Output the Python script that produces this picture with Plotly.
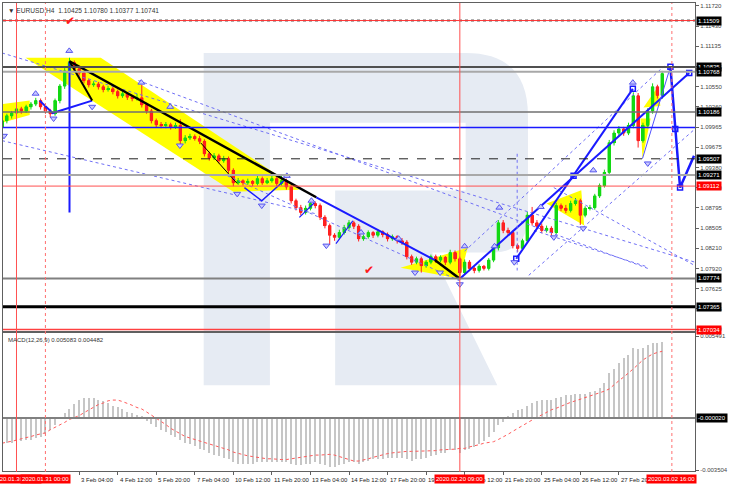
import plotly.graph_objects as go

# ---------------- data ----------------
candle_idx = list(range(138))

open_p = [1.0996,1.1006,1.1013,1.1017,1.1023,1.1020,1.1026,1.1030,1.1035,1.1026,
          1.1020,1.1016,1.1035,1.1056,1.1078,1.1090,1.1081,1.1075,1.1064,1.1058,
          1.1059,1.1055,1.1051,1.1052,1.1048,1.1042,1.1045,1.1040,1.1038,1.1039,
          1.1029,1.1020,1.1006,1.1000,1.0999,1.1000,1.0997,1.0999,1.0977,1.0981,
          1.0983,1.0980,1.0976,1.0958,1.0952,1.0955,1.0948,1.0951,1.0934,1.0916,
          1.0919,1.0916,1.0918,1.0915,1.0922,1.0916,1.0919,1.0922,1.0915,1.0919,
          1.0910,1.0890,1.0880,1.0873,1.0879,1.0886,1.0883,1.0866,1.0854,1.0840,
          1.0837,1.0844,1.0851,1.0858,1.0853,1.0835,1.0838,1.0844,1.0840,1.0845,
          1.0841,1.0835,1.0838,1.0832,1.0830,1.0809,1.0801,1.0806,1.0796,1.0801,
          1.0809,1.0804,1.0808,1.0801,1.0815,1.0806,1.0786,1.0801,1.0792,1.0789,
          1.0795,1.0792,1.0804,1.0822,1.0858,1.0847,1.0844,1.0825,1.0821,1.0832,
          1.0869,1.0858,1.0853,1.0847,1.0850,1.0844,1.0883,1.0879,1.0876,1.0886,
          1.0890,1.0869,1.0879,1.0880,1.0897,1.0912,1.0931,1.0974,1.0988,1.0994,
          1.0988,1.0999,1.1042,1.0977,1.0999,1.1020,1.1055,1.10425]

close_p = [1.1006,1.1013,1.1017,1.1023,1.1020,1.1026,1.1030,1.1035,1.1026,1.1020,
           1.1016,1.1035,1.1056,1.1078,1.1090,1.1081,1.1075,1.1064,1.1058,1.1059,
           1.1055,1.1051,1.1052,1.1048,1.1042,1.1045,1.1040,1.1038,1.1039,1.1029,
           1.1020,1.1006,1.1000,1.0999,1.1000,1.0997,1.0999,1.0977,1.0981,1.0983,
           1.0980,1.0976,1.0958,1.0952,1.0955,1.0948,1.0951,1.0934,1.0916,1.0919,
           1.0916,1.0918,1.0915,1.0922,1.0916,1.0919,1.0922,1.0915,1.0919,1.0910,
           1.0890,1.0880,1.0873,1.0879,1.0886,1.0883,1.0866,1.0854,1.0840,1.0837,
           1.0844,1.0851,1.0858,1.0853,1.0835,1.0838,1.0844,1.0840,1.0845,1.0841,
           1.0835,1.0838,1.0832,1.0830,1.0809,1.0801,1.0806,1.0796,1.0801,1.0809,
           1.0804,1.0808,1.0801,1.0815,1.0806,1.0786,1.0801,1.0792,1.0789,1.0795,
           1.0792,1.0804,1.0822,1.0858,1.0847,1.0844,1.0825,1.0821,1.0832,1.0869,
           1.0858,1.0853,1.0847,1.0850,1.0844,1.0883,1.0879,1.0876,1.0886,1.0890,
           1.0869,1.0879,1.0880,1.0897,1.0912,1.0931,1.0974,1.0988,1.0994,1.0988,
           1.0999,1.1042,1.0977,1.0999,1.1020,1.1055,1.10425,1.10741]

high_p = [1.1010,1.1016,1.1020,1.1027,1.1026,1.1029,1.1033,1.1039,1.1038,1.1029,
          1.1023,1.1038,1.1059,1.1082,1.1097,1.1093,1.1085,1.1078,1.1067,1.1063,
          1.1062,1.1058,1.1056,1.1055,1.1051,1.1048,1.1047,1.1043,1.1045,1.1058,
          1.1032,1.1023,1.1009,1.1004,1.1004,1.1003,1.1003,1.1008,1.0985,1.0987,
          1.0986,1.0984,1.0979,1.0961,1.0959,1.0958,1.0955,1.0954,1.0937,1.0923,
          1.0921,1.0922,1.0920,1.0926,1.0925,1.0923,1.0926,1.0925,1.0926,1.0922,
          1.0913,1.0893,1.0884,1.0883,1.0890,1.0889,1.0886,1.0869,1.0857,1.0843,
          1.0848,1.0855,1.0862,1.0861,1.0856,1.0841,1.0847,1.0846,1.0848,1.0847,
          1.0844,1.0841,1.0840,1.0836,1.0833,1.0812,1.0809,1.0809,1.0804,1.0812,
          1.0812,1.0811,1.0810,1.0819,1.0818,1.0809,1.0805,1.0804,1.0795,1.0798,
          1.0797,1.0807,1.0825,1.0862,1.0862,1.0851,1.0847,1.0828,1.0835,1.0874,
          1.0881,1.0862,1.0857,1.0854,1.0853,1.0887,1.0886,1.0884,1.0890,1.0894,
          1.0893,1.0882,1.0884,1.0900,1.0915,1.0935,1.0978,1.0992,1.0998,1.0997,
          1.1003,1.1047,1.1046,1.1003,1.1024,1.1060,1.1058,1.10780]

low_p = [1.0992,1.1002,1.1009,1.1013,1.1016,1.1017,1.1022,1.1027,1.1022,1.1016,
         1.1011,1.1013,1.1031,1.1052,1.1074,1.1077,1.1071,1.1060,1.1054,1.1055,
         1.1051,1.1047,1.1048,1.1044,1.1038,1.1039,1.1036,1.1034,1.1035,1.1025,
         1.1016,1.1002,1.0996,1.0995,1.0995,1.0993,1.0994,1.0972,1.0973,1.0978,
         1.0977,1.0972,1.0954,1.0948,1.0949,1.0944,1.0945,1.0930,1.0911,1.0913,
         1.0912,1.0913,1.0911,1.0912,1.0913,1.0914,1.0916,1.0911,1.0912,1.0906,
         1.0886,1.0876,1.0869,1.0870,1.0876,1.0879,1.0862,1.0850,1.0826,1.0832,
         1.0834,1.0841,1.0848,1.0849,1.0831,1.0832,1.0835,1.0836,1.0837,1.0837,
         1.0831,1.0832,1.0828,1.0826,1.0805,1.0797,1.0798,1.0786,1.0793,1.0798,
         1.0800,1.0801,1.0797,1.0798,1.0802,1.0777,1.0783,1.0788,1.0785,1.0786,
         1.0789,1.0789,1.0801,1.0818,1.0843,1.0840,1.0821,1.0816,1.0818,1.0829,
         1.0854,1.0849,1.0843,1.0844,1.0837,1.0841,1.0875,1.0872,1.0873,1.0883,
         1.0855,1.0866,1.0876,1.0877,1.0894,1.0909,1.0928,1.0970,1.0984,1.0984,
         1.0985,1.0995,1.0967,1.0974,1.0995,1.1016,1.1038,1.10377]

macd_main = [-0.0017,-0.0017,-0.0017,-0.0016,-0.0016,-0.0015,-0.0015,-0.0014,-0.0013,-0.0011,
             -0.0008,-0.0005,-0.0001,0.0003,0.0006,0.0009,0.0012,0.0013,0.0013,0.0013,
             0.0012,0.0011,0.0010,0.0008,0.0007,0.0006,0.0004,0.0003,0.0002,0.0001,
             -0.0002,-0.0004,-0.0006,-0.0008,-0.0010,-0.0012,-0.0013,-0.0015,-0.0017,-0.0018,
             -0.0019,-0.0021,-0.0022,-0.0024,-0.0025,-0.0026,-0.0027,-0.0028,-0.0030,-0.0031,
             -0.0031,-0.0031,-0.0031,-0.0030,-0.0030,-0.0030,-0.0030,-0.0030,-0.0030,-0.0030,
             -0.0031,-0.0032,-0.0032,-0.0031,-0.0031,-0.0030,-0.0031,-0.0032,-0.0033,-0.0033,
             -0.0032,-0.0031,-0.0030,-0.0030,-0.0031,-0.0030,-0.0029,-0.0028,-0.0028,-0.0028,
             -0.0027,-0.0027,-0.0027,-0.0027,-0.0028,-0.0029,-0.0028,-0.0028,-0.0027,-0.0026,
             -0.0025,-0.0024,-0.0024,-0.0022,-0.0022,-0.0024,-0.0022,-0.0021,-0.0020,-0.0018,
             -0.0016,-0.0013,-0.0010,-0.0005,-0.0003,0.0001,0.0003,0.0005,0.0006,0.0008,
             0.0010,0.0011,0.0012,0.0012,0.0012,0.0013,0.0014,0.0015,0.0015,0.0016,
             0.0016,0.0016,0.0017,0.0018,0.0020,0.0023,0.0030,0.0033,0.0037,0.0040,
             0.0042,0.0047,0.0046,0.0047,0.0049,0.0050,0.0050,0.005083]

macd_signal = [-0.00170,-0.00165,-0.00160,-0.00150,-0.00140,-0.00135,-0.00125,-0.00115,-0.00110,-0.00100,
               -0.00080,-0.00065,-0.00050,-0.00030,-0.00010,0.00000,0.00015,0.00035,0.00055,0.00075,
               0.00090,0.00100,0.00115,0.00120,0.00120,0.00110,0.00100,0.00085,0.00070,0.00060,
               0.00040,0.00020,0.00000,-0.00020,-0.00045,-0.00070,-0.00090,-0.00110,-0.00125,-0.00135,
               -0.00145,-0.00155,-0.00165,-0.00175,-0.00185,-0.00195,-0.00205,-0.00215,-0.00230,-0.00240,
               -0.00250,-0.00255,-0.00260,-0.00265,-0.00270,-0.00275,-0.00275,-0.00280,-0.00280,-0.00280,
               -0.00275,-0.00270,-0.00265,-0.00260,-0.00255,-0.00250,-0.00250,-0.00245,-0.00245,-0.00250,
               -0.00260,-0.00270,-0.00280,-0.00290,-0.00290,-0.00285,-0.00275,-0.00265,-0.00255,-0.00245,
               -0.00240,-0.00235,-0.00230,-0.00230,-0.00225,-0.00225,-0.00225,-0.00225,-0.00220,-0.00220,
               -0.00220,-0.00215,-0.00215,-0.00210,-0.00210,-0.00205,-0.00205,-0.00195,-0.00190,-0.00180,
               -0.00170,-0.00165,-0.00160,-0.00145,-0.00130,-0.00110,-0.00090,-0.00070,-0.00050,-0.00035,
               -0.00015,0.00005,0.00020,0.00040,0.00055,0.00065,0.00080,0.00095,0.00105,0.00115,
               0.00125,0.00135,0.00150,0.00160,0.00170,0.00180,0.00195,0.00225,0.00250,0.00275,
               0.00300,0.00330,0.00360,0.00390,0.00410,0.00430,0.00440,0.004482]

price_ticks = [1.11720,1.11430,1.11135,1.10845,1.10550,1.10260,1.09965,1.09675,1.09380,
               1.09090,1.08795,1.08505,1.08210,1.07920,1.07625,1.07335,1.07040]
macd_ticks = [0.005491, -0.003504]

time_tick_idx = [16,24,32,40,48,56,64,72,80,88,96,104,112,120,128]
time_tick_text = ["3 Feb 04:00","4 Feb 12:00","5 Feb 20:00","7 Feb 04:00","10 Feb 12:00",
                  "11 Feb 20:00","13 Feb 04:00","14 Feb 12:00","17 Feb 20:00","19 Feb 04:00",
                  "20 Feb 12:00","21 Feb 20:00","25 Feb 04:00","26 Feb 12:00","27 Feb 20:00"]

vline_idx = [3, 9, 95, 139]
vline_text = ["2020.01.30 00:00", "2020.01.31 00:00", "2020.02.20 09:00", "2020.03.02 16:00"]

level_prices = [1.11509, 1.10835, 1.10768, 1.10186, 1.09507, 1.09271, 1.09112, 1.07774, 1.07365, 1.07034]
blue_level = 1.0996

# drawn analysis objects (index, price)
black_a_x = [14, 65.2];        black_a_y = [1.1092, 1.0895]
black_b_x = [14, 18.7];        black_b_y = [1.1092, 1.1035]
black_c_x = [41.2, 48.8];      black_c_y = [1.0974, 1.0915]
black_d_x = [89.8, 95];        black_d_y = [1.0804, 1.0777]
blue_a_x = [65.2, 89.8];       blue_a_y = [1.0895, 1.0804]
blue_b_x = [7.8, 10.5, 18.7];  blue_b_y = [1.1035, 1.1017, 1.1035]
blue_c_x = [50.3, 53.9, 58.5]; blue_c_y = [1.0909, 1.0890, 1.0919]
blue_d_x = [61.7, 64.8];       blue_d_y = [1.0866, 1.0887]
blue_e_x = [69.3, 72.8];       blue_e_y = [1.0828, 1.0861]
blue_up1_x = [95, 142.6];      blue_up1_y = [1.0777, 1.1075]
blue_up2_x = [106.7, 130.9];   blue_up2_y = [1.0806, 1.1052]
blue_fc_x = [138.7, 139.7, 140.7, 143.6]; blue_fc_y = [1.1084, 1.0994, 1.0909, 1.0955]
blue_thin_x = [132.9, 138.7];  blue_thin_y = [1.0951, 1.1084]
blue_vert_x = [14, 14];        blue_vert_y = [1.1092, 1.0873]
blue_dvert_x = [106.9, 106.9]; blue_dvert_y = [1.0958, 1.0789]
square_x = [138.7, 118.6, 106.7, 130.9, 142.6, 139.7, 140.7]
square_y = [1.1084, 1.0926, 1.0806, 1.1052, 1.1075, 1.0994, 1.0909]

dotted_lines = [
    ([0, 143.8], [1.1104, 1.0801]),
    ([0, 65.2], [1.0977, 1.0871]),
    ([28.3, 134], [1.1064, 1.0792]),
    ([46.8, 95.6], [1.0926, 1.0772]),
    ([96, 137.4], [1.0817, 1.1085]),
    ([109.3, 143.8], [1.0782, 1.0994]),
    ([114.5, 143.8], [1.0909, 1.0796]),
    ([110.4, 134], [1.0847, 1.0794]),
]

frac_up_x = [13.95, 6.97, 28.9, 34.9, 59.1, 64.2, 74.5, 82.3, 96, 102.2, 103.2, 111.8, 122.7, 130.9]
frac_up_y = [1.1107, 1.1045, 1.1061, 1.1026, 1.0926, 1.0890, 1.0844, 1.0835, 1.0824, 1.0824, 1.0880, 1.0881, 1.0934, 1.1061]
frac_dn_x = [0.4, 10.7, 18.7, 36.9, 48.8, 53.9, 67.3, 85.7, 90.9, 95, 106.3, 114.5, 120.6, 134]
frac_dn_y = [1.0984, 1.1009, 1.1026, 1.0970, 1.0900, 1.0883, 1.0825, 1.0786, 1.0786, 1.0769, 1.0801, 1.0837, 1.0850, 1.0944]

yellow_polys = [
    ([4.9, 20.5, 61.7, 48.0], [1.1097, 1.1097, 1.0906, 1.0903]),
    ([0, 5.74, 5.74, 0], [1.1030, 1.1035, 1.1014, 1.1003]),
    ([82.7, 96.6, 95], [1.0793, 1.0822, 1.0777]),
    ([113, 120.2, 120.8], [1.0886, 1.0905, 1.0854]),
    ([132.5, 134.6, 132.9], [1.1009, 1.1009, 1.0951]),
    ([133.1, 136.2, 136.6], [1.1025, 1.1056, 1.1027]),
]

check_x = [14.2, 76.1]
check_y = [1.1150, 1.0789]

# ---------------- styles ----------------
FONT = "Liberation Sans"
GREEN = "#14d814"
RED = "#ff2020"
BLUE = "#1a1aff"
DOTBLUE = "#6f6ff5"
level_style = [
    dict(color="#ff3030", width=1, box="#000000"),
    dict(color="#505050", width=2, box="#000000"),
    dict(color="#a8a8a8", width=2, box="#000000"),
    dict(color="#707070", width=1.5, box="#000000"),
    dict(color="#202020", width=1, box="#000000", dash="dash"),
    dict(color="#a8a8a8", width=2, box="#000000"),
    dict(color="#ff5050", width=1, box="#ff0000"),
    dict(color="#808080", width=2, box="#000000"),
    dict(color="#000000", width=3, box="#000000"),
    dict(color="#ff4040", width=1.5, box="#ff0000"),
]
vline_style = [
    dict(color="#ff5050", dash="solid"),
    dict(color="#ff7070", dash="dot"),
    dict(color="#ff5050", dash="solid"),
    dict(color="#ff7070", dash="dot"),
]

X_RANGE = [0.2, 143.8]
Y_RANGE = [1.070093, 1.117633]
M_RANGE = [-0.00357, 0.00569]

fig = go.Figure()

# dotted channel lines
for xs, ys in dotted_lines:
    fig.add_trace(go.Scatter(x=xs, y=ys, mode="lines",
                             line=dict(color=DOTBLUE, width=1, dash="dot"), hoverinfo="skip"))

# candles: wicks via candlestick, wider bodies via bars
fig.add_trace(go.Candlestick(
    x=candle_idx, open=open_p, high=high_p, low=low_p, close=close_p,
    increasing=dict(line=dict(color=GREEN, width=1), fillcolor=GREEN),
    decreasing=dict(line=dict(color=RED, width=1), fillcolor=RED),
    whiskerwidth=0, xaxis="x", yaxis="y", hoverinfo="skip"))
body_base = [min(o, c) for o, c in zip(open_p, close_p)]
body_len = [max(abs(c - o), 0.00004) for o, c in zip(open_p, close_p)]
body_col = [GREEN if c >= o else RED for o, c in zip(open_p, close_p)]
fig.add_trace(go.Bar(x=candle_idx, y=body_len, base=body_base, width=0.62,
                     marker=dict(color=body_col, line=dict(width=0)),
                     xaxis="x", yaxis="y", hoverinfo="skip"))

def add_line(xs, ys, color, width, dash="solid"):
    fig.add_trace(go.Scatter(x=xs, y=ys, mode="lines", line=dict(color=color, width=width, dash=dash),
                             hoverinfo="skip"))

add_line(blue_a_x, blue_a_y, BLUE, 2)
add_line(blue_b_x, blue_b_y, BLUE, 2)
add_line(blue_c_x, blue_c_y, BLUE, 1.5)
add_line(blue_d_x, blue_d_y, BLUE, 1.2)
add_line(blue_e_x, blue_e_y, BLUE, 1.2)
add_line(blue_up1_x, blue_up1_y, BLUE, 2)
add_line(blue_up2_x, blue_up2_y, BLUE, 2)
add_line(blue_fc_x, blue_fc_y, BLUE, 2.5)
add_line(blue_thin_x, blue_thin_y, "#5050ff", 1)
add_line(blue_vert_x, blue_vert_y, BLUE, 2)
add_line(blue_dvert_x, blue_dvert_y, DOTBLUE, 1, "dot")
add_line(black_a_x, black_a_y, "#000000", 2.5)
add_line(black_b_x, black_b_y, "#000000", 2)
add_line(black_c_x, black_c_y, "#000000", 1)
add_line(black_d_x, black_d_y, "#000000", 2.5)

fig.add_trace(go.Scatter(x=square_x, y=square_y, mode="markers",
                         marker=dict(symbol="square-open", size=5, color=BLUE, line=dict(width=1.5)),
                         hoverinfo="skip"))
fig.add_trace(go.Scatter(x=frac_up_x, y=frac_up_y, mode="markers",
                         marker=dict(symbol="triangle-up", size=6, color="#c8c8ff",
                                     line=dict(color="#5555ee", width=1)), hoverinfo="skip"))
fig.add_trace(go.Scatter(x=frac_dn_x, y=frac_dn_y, mode="markers",
                         marker=dict(symbol="triangle-down", size=6, color="#c8c8ff",
                                     line=dict(color="#5555ee", width=1)), hoverinfo="skip"))

# MACD
fig.add_trace(go.Bar(x=candle_idx, y=macd_main, width=0.22, marker=dict(color="#c6c6c6", line=dict(width=0)),
                     xaxis="x2", yaxis="y2", hoverinfo="skip"))
fig.add_trace(go.Scatter(x=candle_idx, y=macd_signal, mode="lines", xaxis="x2", yaxis="y2",
                         line=dict(color="#ff5a5a", width=1, dash="dot"), hoverinfo="skip"))

shapes = []
annotations = []

# watermark "R" (pixel outline converted to paper)
def pp(px, py):
    return "%.4f,%.4f" % ((px - 2) / 700.0, (472 - py) / 470.0)

r_path = ("M " + pp(205, 52) + " L " + pp(470, 52) + " Q " + pp(533, 52) + " " + pp(533, 115) +
          " L " + pp(533, 215) + " Q " + pp(533, 252) + " " + pp(496, 252) + " L " + pp(436, 252) +
          " L " + pp(502, 385) + " L " + pp(338, 385) + " L " + pp(338, 190) + " L " + pp(470, 190) +
          " L " + pp(470, 122) + " L " + pp(272, 122) + " L " + pp(272, 385) + " L " + pp(205, 385) + " Z")
shapes.append(dict(type="path", path=r_path, xref="paper", yref="paper", layer="below",
                   fillcolor="#e6ebf3", line=dict(width=0)))

# yellow shaded patterns (below the candles)
for xs, ys in yellow_polys:
    path = "M " + " L ".join("%g,%g" % (a, b) for a, b in zip(xs, ys)) + " Z"
    shapes.append(dict(type="path", path=path, xref="x", yref="y", layer="below",
                       fillcolor="#ffff00", line=dict(width=0)))

# horizontal levels
shapes.append(dict(type="line", xref="paper", x0=0, x1=1, yref="y", y0=level_prices[0], y1=level_prices[0],
                   line=dict(color="#b0b0b0", width=3, dash="dot"), layer="above"))
for p, st in zip(level_prices, level_style):
    shapes.append(dict(type="line", xref="paper", x0=0, x1=1, yref="y", y0=p, y1=p,
                       line=dict(color=st["color"], width=st["width"], dash=st.get("dash", "solid")),
                       layer="above"))
    annotations.append(dict(xref="paper", x=1, yref="y", y=p, xanchor="left", yanchor="middle",
                            xshift=1, text="%.5f" % p, showarrow=False, bgcolor=st["box"],
                            font=dict(family=FONT, size=6, color="#ffffff"), borderpad=1))
shapes.append(dict(type="line", xref="paper", x0=0, x1=1, yref="y", y0=blue_level, y1=blue_level,
                   line=dict(color=BLUE, width=1.5), layer="above"))

# MACD zero line
shapes.append(dict(type="line", xref="paper", x0=0, x1=1, yref="y2", y0=0, y1=0,
                   line=dict(color="#808080", width=2), layer="above"))
annotations.append(dict(xref="paper", x=1, yref="y2", y=0, xanchor="left", yanchor="middle", xshift=1,
                        text="-0.000020", showarrow=False, bgcolor="#000000",
                        font=dict(family=FONT, size=6, color="#ffffff"), borderpad=1))

# vertical time lines
for xi, st, txt in zip(vline_idx, vline_style, vline_text):
    shapes.append(dict(type="line", xref="x", x0=xi, x1=xi, yref="paper", y0=0, y1=1,
                       line=dict(color=st["color"], width=1, dash=st["dash"]), layer="above"))
    annotations.append(dict(xref="x", x=xi, yref="paper", y=0, xanchor="center", yanchor="top", yshift=-2,
                            text=txt, showarrow=False, bgcolor="#ff0000",
                            font=dict(family=FONT, size=6, color="#ffffff"), borderpad=1))

# x tick labels (MT4 style, left-aligned at tick)
for xi, txt in zip(time_tick_idx, time_tick_text):
    annotations.insert(0, dict(xref="x", x=xi, yref="paper", y=0, xanchor="left", yanchor="top",
                               yshift=-3, xshift=0, text=txt, showarrow=False,
                               font=dict(family=FONT, size=6, color="#222222")))

# check marks
for cx, cy in zip(check_x, check_y):
    annotations.append(dict(xref="x", x=cx, yref="y", y=cy, text="\u2714", showarrow=False,
                            font=dict(family="DejaVu Sans", size=12, color="#ff1a1a")))

# header texts
annotations.append(dict(xref="paper", x=0.004, yref="paper", y=1, xanchor="left", yanchor="top", yshift=-2,
                        text="\u25BC EURUSD.H4  1.10425 1.10780 1.10377 1.10741", showarrow=False,
                        font=dict(family=FONT, size=6.6, color="#333333")))
annotations.append(dict(xref="paper", x=0.004, yref="paper", y=0.2957, xanchor="left", yanchor="top",
                        yshift=-2, text="MACD(12,26,9) 0.005083 0.004482", showarrow=False,
                        font=dict(family=FONT, size=6, color="#333333")))

axis_common = dict(showgrid=False, zeroline=False, showline=True, mirror=True, linecolor="#606060",
                   linewidth=1)

fig.update_layout(
    width=730, height=487,
    margin=dict(l=2, r=28, t=2, b=15),
    paper_bgcolor="#ffffff", plot_bgcolor="rgba(0,0,0,0)",
    showlegend=False, bargap=0, barmode="overlay",
    font=dict(family=FONT, size=6, color="#333333"),
    xaxis=dict(domain=[0, 1], range=X_RANGE, anchor="y", showticklabels=False, ticks="",
               rangeslider=dict(visible=False), **axis_common),
    xaxis2=dict(domain=[0, 1], range=X_RANGE, anchor="y2", matches="x", showticklabels=False,
                tickmode="array", tickvals=time_tick_idx, ticks="outside", ticklen=3, tickcolor="#606060",
                **axis_common),
    yaxis=dict(domain=[0.3, 1], range=Y_RANGE, side="right", anchor="x", tickmode="array",
               tickvals=price_ticks, ticktext=["%.5f" % t for t in price_ticks], ticks="outside",
               ticklen=3, tickcolor="#606060", tickfont=dict(family=FONT, size=6, color="#444444"),
               **axis_common),
    yaxis2=dict(domain=[0.00213, 0.2957], range=M_RANGE, side="right", anchor="x2", tickmode="array",
                tickvals=macd_ticks, ticktext=["%.6f" % t for t in macd_ticks], ticks="outside",
                ticklen=3, tickcolor="#606060", tickfont=dict(family=FONT, size=6, color="#444444"),
                **axis_common),
    shapes=shapes, annotations=annotations,
)

fig.write_html("out.html", config={"displayModeBar": False},
               post_script="document.body.style.margin='0';document.body.style.overflow='hidden';")
